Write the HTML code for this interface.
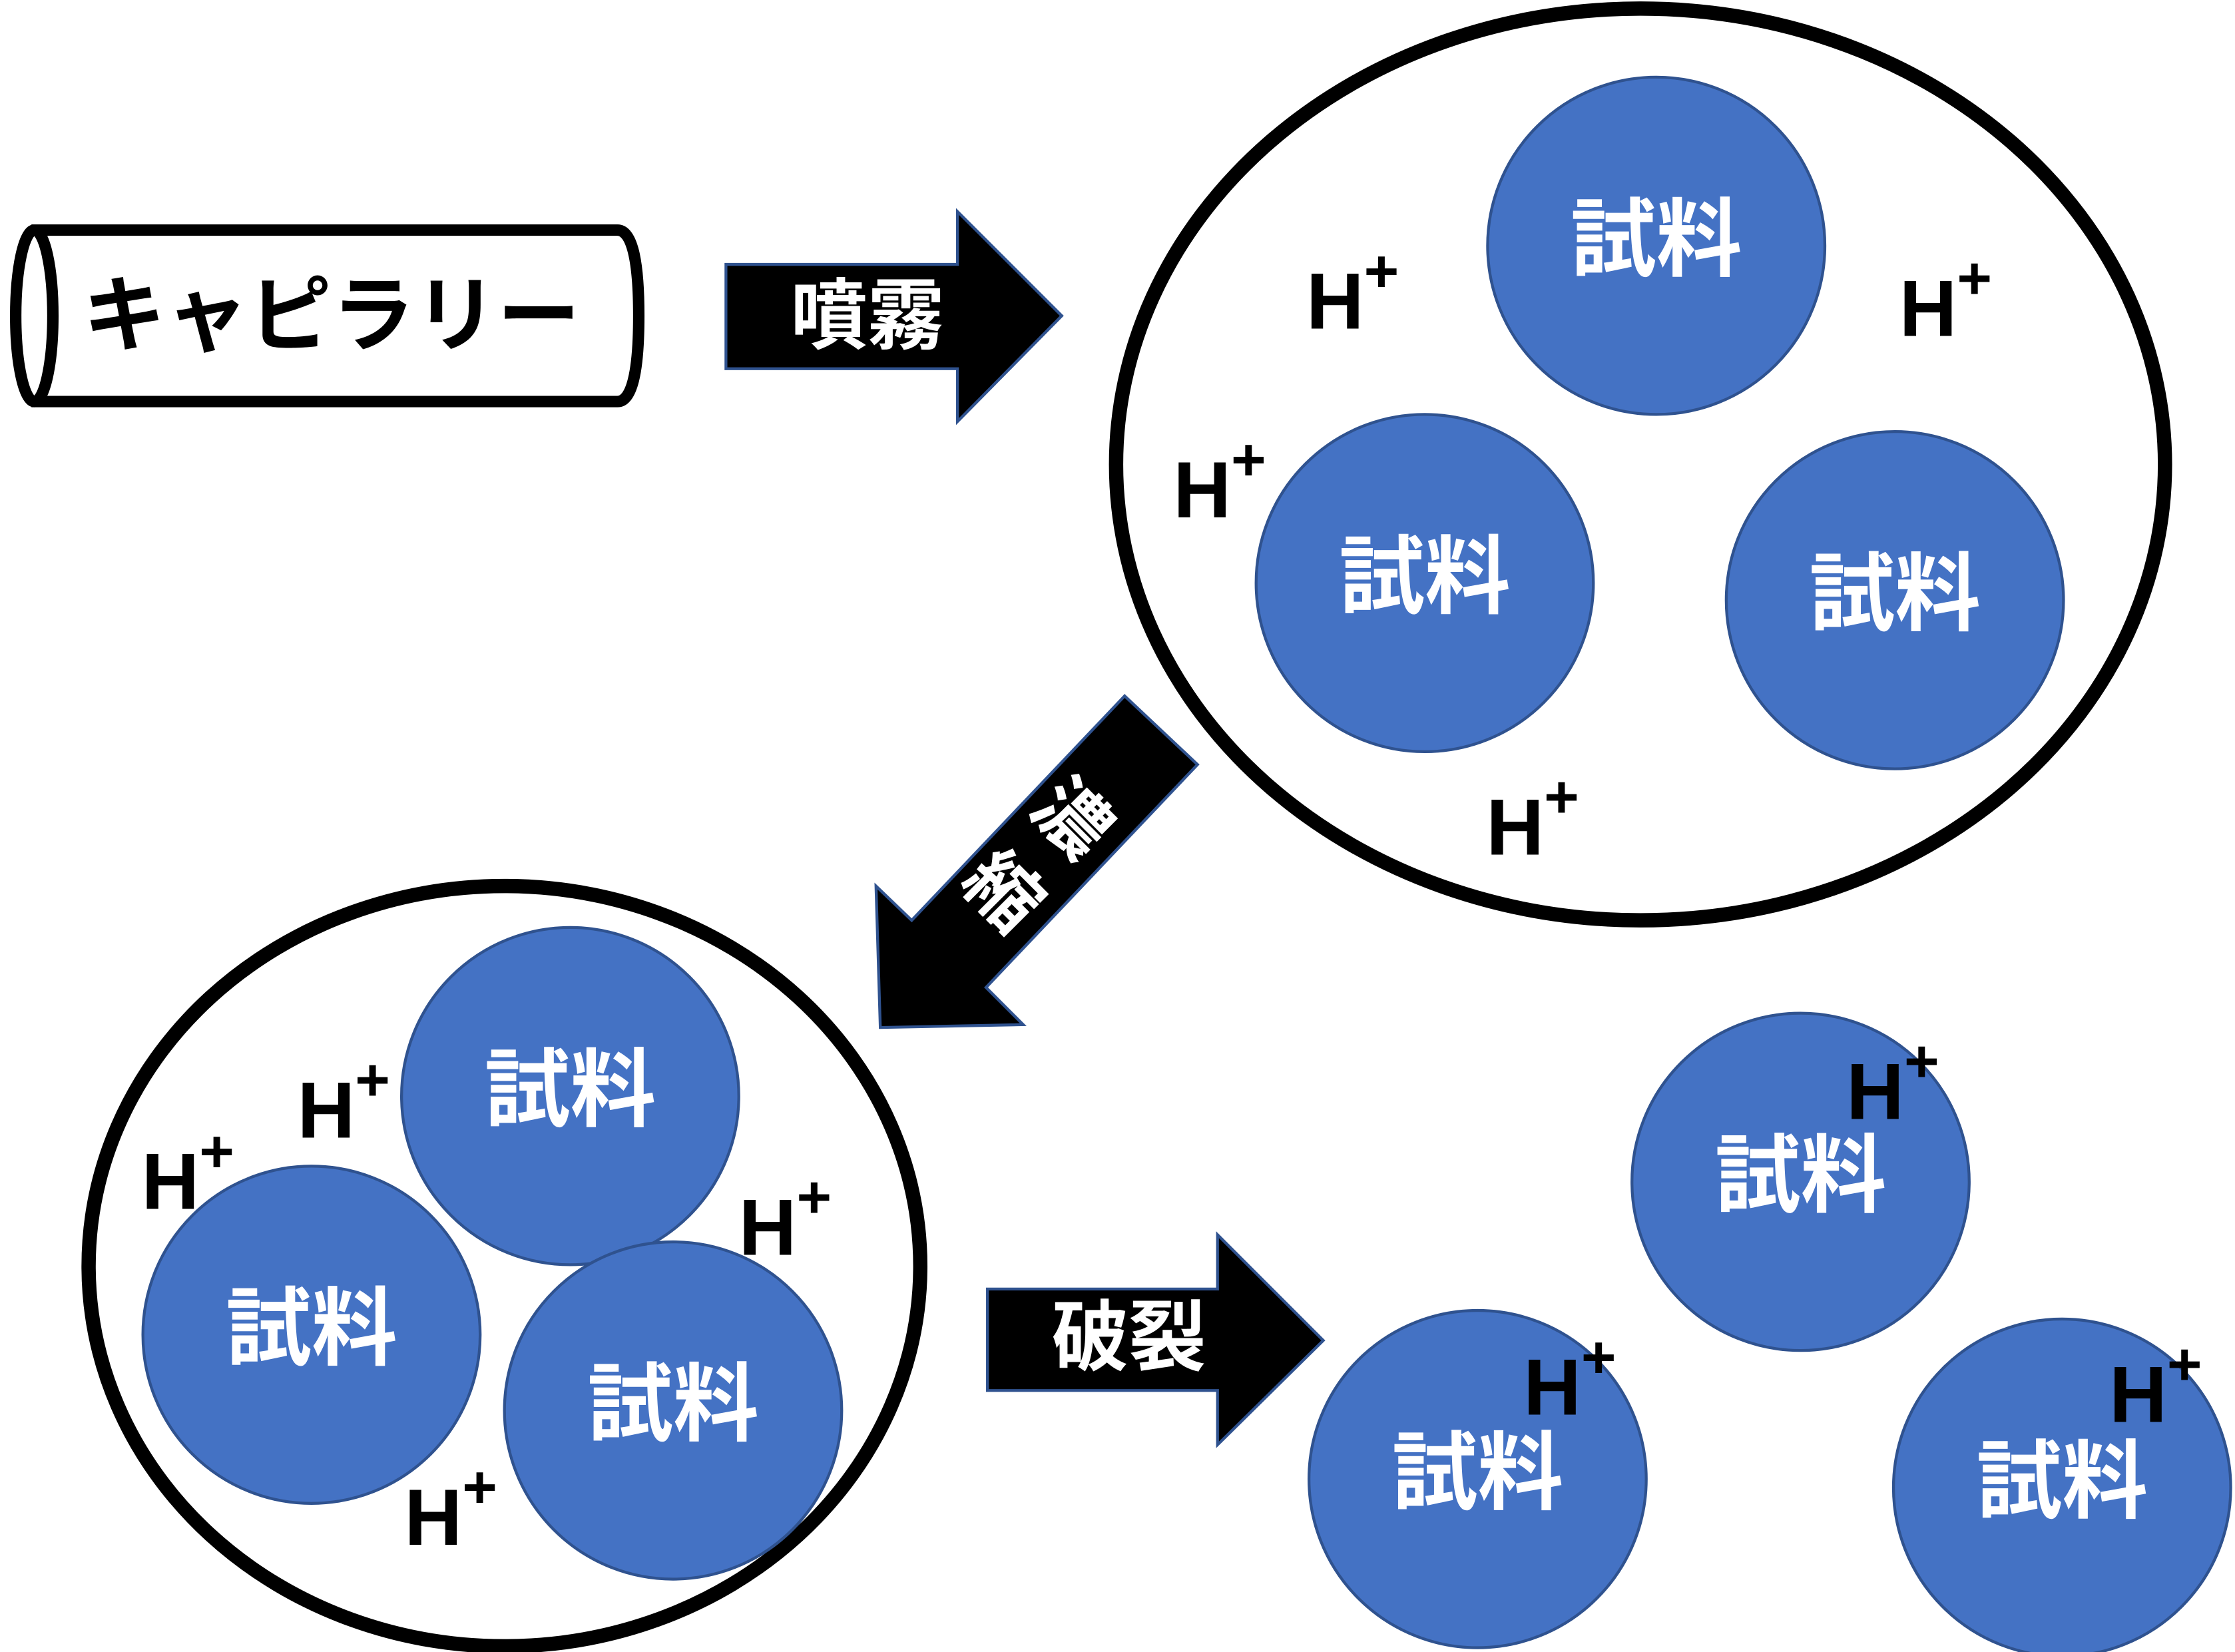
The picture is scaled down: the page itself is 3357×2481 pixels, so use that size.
<!DOCTYPE html>
<html><head><meta charset="utf-8"><style>
html,body{margin:0;padding:0;background:#fff;}
svg{display:block;}
text{font-family:"Liberation Sans","Noto Sans CJK JP",sans-serif;font-weight:bold;}
.jp{fill:#fff;font-size:60px;text-anchor:middle;dominant-baseline:central;}
.h{fill:#000;font-size:56px;}
.p{font-size:42px;}
.c{fill:#4472C4;stroke:#2F528F;stroke-width:2;}
.ar{fill:#000;stroke:#2F528F;stroke-width:2;}
</style></head><body>
<svg width="3357" height="2481" viewBox="0 0 1564 1156" preserveAspectRatio="none" xmlns="http://www.w3.org/2000/svg">
<path d="M22,161 L432,161 Q447,161 447,221 Q447,281 432,281 L22,281" fill="#fff" stroke="#000" stroke-width="8"/>
<ellipse cx="24" cy="221" rx="13" ry="60" fill="#fff" stroke="#000" stroke-width="8"/>
<text x="232" y="221" style="font-size:58px;text-anchor:middle;dominant-baseline:central;fill:#000">キャピラリー</text>

<polygon class="ar" points="508,185 670,185 670,148 743,221 670,295 670,258 508,258"/>
<text class="jp" x="607" y="221" style="font-size:54px">噴霧</text>

<ellipse cx="1148" cy="325" rx="367" ry="319" fill="none" stroke="#000" stroke-width="10"/>
<circle class="c" cx="1159" cy="172" r="118"/><text class="jp" x="1159" y="168">試料</text>
<circle class="c" cx="997" cy="408" r="118"/><text class="jp" x="997" y="404">試料</text>
<circle class="c" cx="1326" cy="420" r="118"/><text class="jp" x="1326" y="416">試料</text>
<text class="h" x="914" y="230">H<tspan class="p" dy="-26">+</tspan></text>
<text class="h" x="1329" y="235">H<tspan class="p" dy="-26">+</tspan></text>
<text class="h" x="821" y="362">H<tspan class="p" dy="-26">+</tspan></text>
<text class="h" x="1040" y="598">H<tspan class="p" dy="-26">+</tspan></text>

<polygon class="ar" points="787,487 838,535 690,691 716,717 616,719 613,620 638,644"/>
<text class="jp" x="750" y="573" style="font-size:52px" transform="rotate(45 750 573)">濃</text>
<text class="jp" x="702" y="624" style="font-size:52px" transform="rotate(45 702 624)">縮</text>

<ellipse cx="353" cy="886" rx="291" ry="266" fill="none" stroke="#000" stroke-width="10"/>
<circle class="c" cx="399" cy="767" r="118"/><text class="jp" x="399" y="763">試料</text>
<circle class="c" cx="218" cy="934" r="118"/><text class="jp" x="218" y="930">試料</text>
<circle class="c" cx="471" cy="987" r="118"/><text class="jp" x="471" y="983">試料</text>
<text class="h" x="208" y="796">H<tspan class="p" dy="-26">+</tspan></text>
<text class="h" x="99" y="846">H<tspan class="p" dy="-26">+</tspan></text>
<text class="h" x="517" y="878">H<tspan class="p" dy="-26">+</tspan></text>
<text class="h" x="283" y="1081">H<tspan class="p" dy="-26">+</tspan></text>

<polygon class="ar" points="691,902 852,902 852,864 926,938 852,1011 852,973 691,973"/>
<text class="jp" x="790" y="936" style="font-size:54px">破裂</text>

<circle class="c" cx="1260" cy="827" r="118"/><text class="jp" x="1260" y="823">試料</text>
<circle class="c" cx="1034" cy="1035" r="118"/><text class="jp" x="1034" y="1031">試料</text>
<circle class="c" cx="1443" cy="1041" r="118"/><text class="jp" x="1443" y="1037">試料</text>
<text class="h" x="1292" y="783">H<tspan class="p" dy="-26">+</tspan></text>
<text class="h" x="1066" y="990">H<tspan class="p" dy="-26">+</tspan></text>
<text class="h" x="1476" y="995">H<tspan class="p" dy="-26">+</tspan></text>
</svg>
</body></html>
